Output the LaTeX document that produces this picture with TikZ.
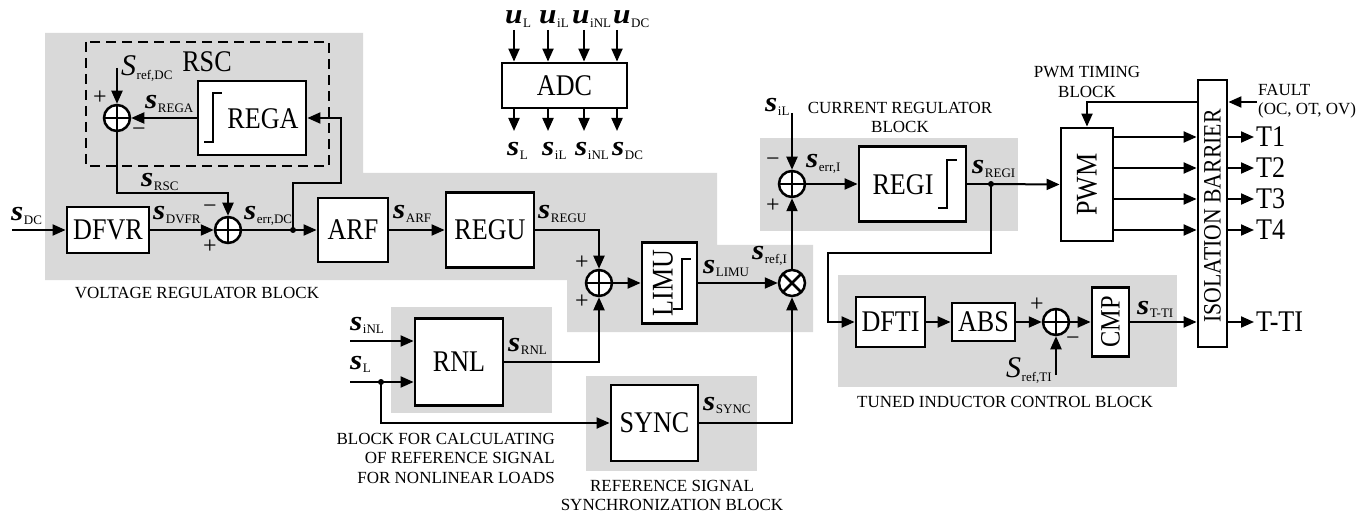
\documentclass[tikz,border=0pt]{standalone}
\usepackage{fontspec}
\setmainfont{Liberation Serif}
\usetikzlibrary{arrows.meta,calc}
\definecolor{bg}{RGB}{217,217,217}
\newcommand\bigt[1]{\scalebox{0.87}[1]{\fontsize{30}{32}\selectfont #1}}
\newcommand\capf{\fontsize{17}{19.5}\selectfont}
\newcommand\pmf{\fontsize{24}{24}\selectfont}
\newcommand\sgl[2]{\scalebox{1.12}[1]{\fontsize{28}{28}\selectfont\bfseries\itshape #1}\kern0.5pt\raisebox{-3.5pt}{\fontsize{13}{13}\selectfont #2}}
\newcommand\Sgl[2]{{\fontsize{30}{30}\selectfont\itshape #1}\kern0.5pt\raisebox{-4pt}{\fontsize{13}{13}\selectfont #2}}
\begin{document}
\begin{tikzpicture}[x=1pt,y=-1pt,
  blk/.style={draw, line width=2.8pt, fill=white, inner sep=0pt},
  bt/.style={inner sep=0pt},
  capt/.style={font=\capf, inner sep=0pt, align=center},
  lbl/.style={inner sep=0pt, anchor=base west},
  pm/.style={font=\pmf, inner sep=0pt},
  sumj/.style={circle, draw, fill=white, line width=2.5pt, minimum size=26pt, inner sep=0pt,
    path picture={\draw[line width=2.5pt] (path picture bounding box.north) -- (path picture bounding box.south) (path picture bounding box.west) -- (path picture bounding box.east);}},
  mulj/.style={circle, draw, fill=white, line width=2.5pt, minimum size=26pt, inner sep=0pt,
    path picture={\draw[line width=2.5pt] (path picture bounding box.north west) -- (path picture bounding box.south east) (path picture bounding box.south west) -- (path picture bounding box.north east);}},
  conn/.style={line width=2pt},
  arr/.style={line width=2pt, -{Triangle[length=13pt,width=11pt]}},
  jdot/.style={circle, fill, inner sep=0pt, minimum size=6pt},
  lim/.style={line width=2pt}
]
\useasboundingbox (0,0) rectangle (1363,513);
% gray backgrounds
\fill[bg] (45,33) -- (363,33) -- (363,173) -- (717,173) -- (717,245) -- (813,245) -- (813,332) -- (567,332) -- (567,280) -- (45,280) -- cycle;
\fill[bg] (391,307) rectangle (552,413);
\fill[bg] (586,376) rectangle (757,471);
\fill[bg] (760,138) rectangle (1018,231);
\fill[bg] (838,275) rectangle (1177,387);
\draw[line width=2.2pt, dash pattern=on 10pt off 6pt] (86,42) rectangle (329,166);

% blocks
\node[blk, minimum width=82, minimum height=46] (dfvr) at (108,230) {\bigt{DFVR}};
\node[blk, minimum width=70, minimum height=64] (arf) at (353,230) {\bigt{ARF}};
\node[blk, minimum width=88, minimum height=75] (regu) at (490,230) {\bigt{REGU}};
\node[blk, minimum width=108, minimum height=74] (rega) at (252,118) {};
\node[bt] (regat) at (263,119) {\bigt{REGA}};
\draw[lim] (204,142) -- (213,142) -- (213,93) -- (222,93);
\node[bt] (rsc) at (207,62) {\bigt{RSC}};
\node[sumj] (sum1) at (117,118) {};
\node[sumj] (sum2) at (228,230) {};
\node[sumj] (sum3) at (599,283) {};
\node[blk, minimum width=55, minimum height=81] (limu) at (669.5,283) {};
\node[bt, rotate=90] (limut) at (663,283) {\bigt{LIMU}};
\draw[lim] (673,309) -- (682,309) -- (682,259) -- (691,259);
\node[mulj] (mult) at (792,283) {};
\node[blk, minimum width=88, minimum height=87] (rnl) at (459,362) {\bigt{RNL}};
\node[blk, minimum width=87, minimum height=76] (sync) at (654.5,423) {\bigt{SYNC}};
\node[sumj] (sum4) at (792,184) {};
\node[blk, minimum width=107, minimum height=75] (regi) at (912.5,184) {};
\node[bt] (regit) at (903,185) {\bigt{REGI}};
\draw[lim] (938,208) -- (947,208) -- (947,160) -- (957,160);
\node[blk, minimum width=52, minimum height=113] (pwm) at (1087,184.5) {};
\node[bt, rotate=90] (pwmt) at (1087,184.5) {\bigt{PWM}};
\node[blk, minimum width=29, minimum height=267] (iso) at (1212.5,213.5) {};
\node[inner sep=0pt, rotate=90] (isot) at (1212.5,216) {\scalebox{0.87}[1]{\fontsize{25}{25}\selectfont ISOLATION BARRIER}};
\node[blk, minimum width=69, minimum height=50] (dfti) at (890.5,322) {\bigt{DFTI}};
\node[blk, minimum width=63, minimum height=38] (abs) at (983.5,322) {\bigt{ABS}};
\node[sumj] (sum5) at (1056,322) {};
\node[blk, minimum width=37, minimum height=69] (cmp) at (1110.5,322) {};
\node[inner sep=0pt, rotate=90] (cmpt) at (1110.5,322) {\scalebox{0.87}[1]{\fontsize{28}{28}\selectfont CMP}};
\node[blk, minimum width=125, minimum height=45] (adc) at (564.5,85.5) {\bigt{ADC}};

% ADC inputs and outputs
\foreach \xx/\nm/\ux/\sx in {514/L/505/507, 548/iL/539/542, 584/iNL/572/575, 617/DC/613/612} {
  \coordinate (ai\nm) at (\xx,30);
  \draw[arr] (ai\nm) -- (ai\nm |- adc.north);
  \coordinate (ao\nm) at (\xx,131);
  \draw[arr] (ao\nm |- adc.south) -- (ao\nm);
  \node[lbl] (lu\nm) at (\ux,24) {\sgl{u}{\nm}};
  \node[lbl] (ls\nm) at (\sx,156) {\sgl{s}{\nm}};
}

% signal labels
\node[lbl] (lDC) at (11,221) {\sgl{s}{DC}};
\node[lbl] (lDVFR) at (153,220) {\sgl{s}{DVFR}};
\node[lbl] (lREGA) at (145,109) {\sgl{s}{REGA}};
\node[lbl] (lRSC) at (141,187) {\sgl{s}{RSC}};
\node[lbl] (lerrDC) at (244,220) {\sgl{s}{err,DC}};
\node[lbl] (lARF) at (393,219) {\sgl{s}{ARF}};
\node[lbl] (lREGU) at (538,219) {\sgl{s}{REGU}};
\node[lbl] (lLIMU) at (703,273) {\sgl{s}{LIMU}};
\node[lbl] (lrefI) at (752,260) {\sgl{s}{ref,I}};
\node[lbl] (liNL) at (350,330) {\sgl{s}{iNL}};
\node[lbl] (lL) at (350,369) {\sgl{s}{L}};
\node[lbl] (lRNL) at (508,351) {\sgl{s}{RNL}};
\node[lbl] (lSYNC) at (703,410) {\sgl{s}{SYNC}};
\node[lbl] (liL) at (765,112) {\sgl{s}{iL}};
\node[lbl] (lerrI) at (806,168) {\sgl{s}{err,I}};
\node[lbl] (lREGI) at (972,174) {\sgl{s}{REGI}};
\node[lbl] (lTTI) at (1137,314) {\sgl{s}{T-TI}};
\node[lbl] (lrefTI) at (1006,377) {\Sgl{S}{ref,TI}};
\node[lbl] (lrefDC) at (121,76) {\Sgl{S}{ref,DC}};

% plus/minus signs
\node[pm] (p1a) at (100,98) {+};
\node[pm] (p1b) at (139,132) {−};
\node[pm] (p2a) at (210,209) {−};
\node[pm] (p2b) at (210,247) {+};
\node[pm] (p3a) at (582,263) {+};
\node[pm] (p3b) at (582,302) {+};
\node[pm] (p4a) at (773,162) {−};
\node[pm] (p4b) at (773,206) {+};
\node[pm] (p5a) at (1037,305) {+};
\node[pm] (p5b) at (1073,341) {−};

% outputs T
\node[bt, anchor=west, inner sep=2pt] (t1) at (1254,137) {\bigt{T1}};
\node[bt, anchor=west, inner sep=2pt] (t2) at (1254,168) {\bigt{T2}};
\node[bt, anchor=west, inner sep=2pt] (t3) at (1254,199) {\bigt{T3}};
\node[bt, anchor=west, inner sep=2pt] (t4) at (1254,230) {\bigt{T4}};
\node[bt, anchor=west, inner sep=2pt] (tti) at (1254,322) {\bigt{T-TI}};

% captions
\node[capt] (cvr) at (197,293) {VOLTAGE REGULATOR BLOCK};
\node[capt, align=right, anchor=east] (cnl) at (555,458) {BLOCK FOR CALCULATING\\OF REFERENCE SIGNAL\\FOR NONLINEAR LOADS};
\node[capt] (csync) at (672,495.5) {REFERENCE SIGNAL\\SYNCHRONIZATION BLOCK};
\node[capt] (ccr) at (900,117.5) {CURRENT REGULATOR\\BLOCK};
\node[capt] (cpwm) at (1087,82) {PWM TIMING\\BLOCK};
\node[capt] (cti) at (1005,402) {TUNED INDUCTOR CONTROL BLOCK};
\node[capt, align=left, anchor=west] (cflt) at (1258,101) {FAULT\\(OC, OT, OV)};

% connectors: voltage regulator
\coordinate (inDC) at (12,230);
\draw[arr] (inDC) -- (dfvr.west);
\draw[arr] (dfvr.east) -- (sum2.west);
\node[jdot] (jdc) at (293,230) {};
\draw[conn] (sum2.east) -- (jdc.center);
\draw[arr] (jdc.center) -- (arf.west);
\coordinate (fb1) at (341,183);
\draw[arr] (jdc.center) |- (fb1) |- (rega.east);
\draw[arr] (rega.west) -- (sum1.east);
\coordinate (srefdc) at (117,68);
\draw[arr] (srefdc) -- (sum1.north);
\coordinate (rc) at (228,193);
\draw[arr] (sum1.south) |- (rc) -- (sum2.north);
\draw[arr] (arf.east) -- (regu.west);
\draw[arr] (regu.east) -| (sum3.north);
\draw[arr] (sum3.east) -- (limu.west);
\draw[arr] (limu.east) -- (mult.west);
\draw[arr] (mult.north) -- (sum4.south);
\draw[arr] (sync.east) -| (mult.south);
\draw[arr] (rnl.east) -| (sum3.south);
\coordinate (iNL) at (350,341);
\draw[arr] (iNL) -- (iNL -| rnl.west);
\coordinate (iL) at (350,382);
\draw[arr] (iL) -- (iL -| rnl.west);
\node[jdot] (jl) at (381,382) {};
\draw[arr] (jl.center) |- (sync.west);

% current regulator
\coordinate (siL) at (792,113);
\draw[arr] (siL) -- (sum4.north);
\draw[arr] (sum4.east) -- (regi.west);
\node[jdot] (jregi) at (991,184) {};
\draw[conn] (regi.east) -- (jregi.center);
\draw[arr] (jregi.center) -- (pwm.west);
\coordinate (c1) at (991,253);
\coordinate (c2) at (828,253);
\draw[arr] (jregi.center) -- (c1) -- (c2) |- (dfti.west);
\draw[arr] (dfti.east) -- (abs.west);
\draw[arr] (abs.east) -- (sum5.west);
\draw[arr] (sum5.east) -- (cmp.west);
\draw[arr] (cmp.east) -- (cmp.east -| iso.west);
\coordinate (sreft) at (1056,375);
\draw[arr] (sreft) -- (sum5.south);

% PWM and isolation
\foreach \t in {t1,t2,t3,t4} {
  \draw[arr] (pwm.east |- \t.west) -- (iso.west |- \t.west);
  \draw[arr] (iso.east |- \t.west) -- (\t.west);
}
\draw[arr] (iso.east |- tti.west) -- (tti.west);
\coordinate (flt) at (1257,102);
\draw[arr] (flt) -- (flt -| iso.east);
\coordinate (tm) at (1087,102);
\draw[arr] (tm -| iso.west) -- (tm) -- (pwm.north);
\end{tikzpicture}
\end{document}
